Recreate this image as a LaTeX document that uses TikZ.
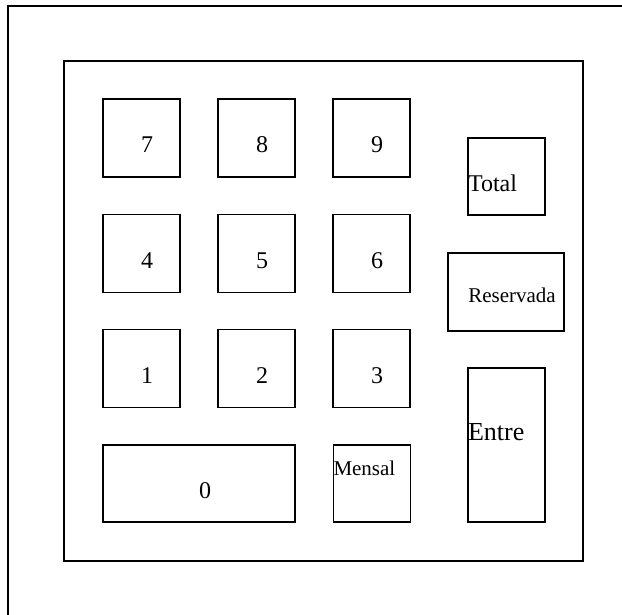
\documentclass[tikz,border=0pt]{standalone}
\usepackage{fontspec}
\setmainfont{Liberation Serif}
\usetikzlibrary{positioning}
\usetikzlibrary{calc}

\begin{document}
\begin{tikzpicture}[x=1pt,y=-1pt,line width=1.3pt,
	key/.style={draw,rectangle,inner sep=0pt,minimum width=77pt,minimum height=78pt},
	digit/.style={inner sep=0pt,font=\fontsize{24}{24}\selectfont},
	word/.style={inner sep=0pt,font=\fontsize{21}{21}\selectfont}]
	\useasboundingbox (0,0) rectangle (622,615);
	\draw (8,6) rectangle (640,640);
	\draw (64,61) rectangle (583,561);
	\foreach \d/\x/\y in {7/141.5/138,8/256.5/138,9/371.5/138,4/141.5/253.5,5/256.5/253.5,6/371.5/253.5,1/141.5/368.5,2/256.5/368.5,3/371.5/368.5}
	{
		\node [key] (k\d) at (\x,\y) {};
		\node [digit] (t\d) at ([shift={(5.5,7)}]k\d.center) {\d};
	}
	\node [key,minimum width=192pt,minimum height=77pt] (k0) at (199,483.5) {};
	\node [digit] (t0) at ([shift={(6,7)}]k0.center) {0};
	\node [key,minimum height=77pt] (kmensal) at (372,483.5) {};
	\node [word,anchor=west] (tmensal) at (kmensal.west |- 0,468) {Mensal};
	\node [key,minimum height=77pt] (ktotal) at (506.5,176.5) {};
	\node [digit,anchor=west] (ttotal) at (ktotal.west |- 0,183) {Total};
	\node [key,minimum width=116pt] (kreserv) at (506,292) {};
	\node [word] (treserv) at (512,295) {Reservada};
	\node [key,minimum height=154pt] (kentre) at (506.5,445) {};
	\node [digit,anchor=west,font=\fontsize{26}{26}\selectfont] (tentre) at (kentre.west |- 0,432) {Entre};
\end{tikzpicture}
\end{document}
